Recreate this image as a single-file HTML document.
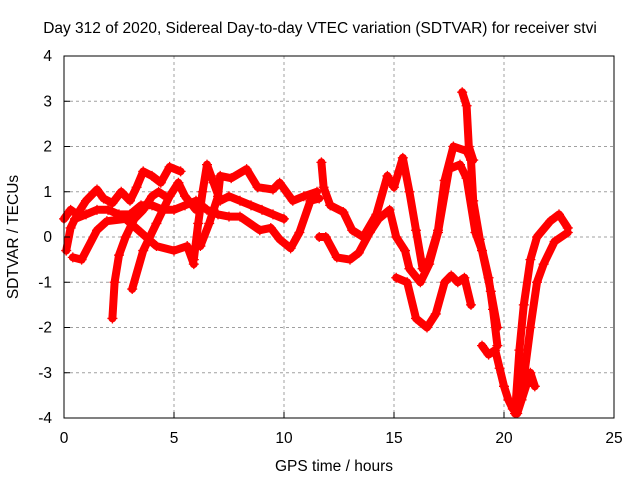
<!DOCTYPE html>
<html><head><meta charset="utf-8"><style>
body{margin:0;background:#fff}
svg text{font-family:"Liberation Sans",sans-serif;font-size:15.5px;fill:#000}
</style></head><body>
<svg width="640" height="480" xmlns="http://www.w3.org/2000/svg">
<rect width="640" height="480" fill="#fff"/>
<g id="grid"></g>
<g id="marks"></g>
<rect x="64" y="56" width="550" height="362" fill="none" stroke="#000" stroke-width="1"/>
<g id="axes"></g>
<text x="320" y="33" text-anchor="middle">Day 312 of 2020, Sidereal Day-to-day VTEC variation (SDTVAR) for receiver stvi</text>
<text x="334" y="471" text-anchor="middle">GPS time / hours</text>
<text x="0" y="0" text-anchor="middle" transform="translate(18,237) rotate(-90)">SDTVAR / TECUs</text>
</svg>
<script>
const xTicks=[0,5,10,15,20,25];
const yTicks=[-4,-3,-2,-1,0,1,2,3,4];
const trackA=[[0,0.4],[0.3,0.6],[0.6,0.5],[1.0,0.8],[1.5,1.05],[1.8,0.85],[2.2,0.75],[2.6,1.0],[3.0,0.8],[3.3,1.1],[3.6,1.45],[4.0,1.35],[4.4,1.2],[4.8,1.55],[5.3,1.45]];
const trackB=[[0.1,-0.3],[0.3,0.2],[0.5,0.4],[1.0,0.5],[1.5,0.6],[2.0,0.6],[2.5,0.5],[3,0.5],[3.5,0.7],[4,0.7],[4.5,0.6],[5,0.6],[5.5,0.7],[6,0.8],[6.5,0.6],[7,0.5],[7.5,0.45],[8,0.45],[8.9,0.15],[9.4,0.2],[9.8,-0.05],[10.3,-0.25],[10.7,0.1],[11.2,0.8],[11.6,0.85]];
const trackC=[[2.2,-1.8],[2.3,-1.0],[2.5,-0.4],[2.8,0],[3.2,0.4],[3.6,0.6],[4,0.9],[4.3,1.0],[4.6,0.9]];
const trackD=[[3.1,-1.15],[3.6,-0.3],[4.2,0.3],[4.8,0.9],[5.2,1.2],[5.5,0.9],[6.0,0.6]];
const trackE=[[5.9,-0.5],[6.1,0.3],[6.3,1.0],[6.5,1.6],[6.8,1.2],[7.1,0.8],[7.5,0.9],[8.0,0.8],[8.5,0.7],[9.0,0.6],[9.5,0.5],[10.0,0.4]];
const trackF=[[6.2,-0.2],[6.6,0.3],[7.0,0.9],[7.1,1.35],[7.6,1.3],[8.3,1.5],[8.8,1.1],[9.5,1.05],[9.8,1.2],[10.4,0.8],[10.9,0.9],[11.5,1.0]];
const trackG=[[0.4,-0.45],[0.8,-0.5],[1.5,0.15],[1.95,0.35],[2.8,0.4],[3.5,0.1],[4.2,-0.2],[5,-0.3],[5.6,-0.2],[5.9,-0.6]];
const trackH=[[11.7,1.65],[11.8,1.1],[12.1,0.7],[12.7,0.55],[13.1,0.15],[13.6,0.0],[14.2,0.5],[14.7,1.35],[15.0,1.1],[15.4,1.75],[15.7,1.0],[16.0,0.15],[16.3,-0.7],[16.6,-0.5],[17.0,0.15],[17.3,1.25],[17.7,2.0],[18.3,1.9],[18.5,1.7],[18.6,0.8],[18.9,-0.05],[19.3,-0.9],[19.5,-1.6],[19.7,-2.4]];
const trackI=[[11.6,0.0],[11.9,0.0],[12.4,-0.45],[13.0,-0.5],[13.4,-0.35],[13.9,0.1],[14.3,0.4],[14.8,0.6],[15.1,0.0],[15.5,-0.3],[15.7,-0.7],[16.2,-1.0],[16.6,-0.6],[17.0,0.1],[17.5,1.5],[18.0,1.6],[18.3,1.3],[18.7,0.1],[19.0,-0.3],[19.4,-1.2],[19.7,-2.0]];
const trackJ=[[15.1,-0.9],[15.6,-1.0],[16.0,-1.8],[16.5,-2.0],[16.9,-1.7],[17.3,-1.0],[17.6,-0.85],[17.9,-1.0],[18.2,-0.9],[18.5,-1.5]];
const trackK=[[18.1,3.2],[18.3,2.9],[18.4,2.0],[18.6,1.7]];
const trackL=[[19.0,-2.4],[19.3,-2.6],[19.6,-2.5],[19.8,-2.9],[20.0,-3.3],[20.2,-3.6],[20.4,-3.8],[20.6,-3.9],[20.8,-3.6],[21.0,-3.3],[21.2,-3.0],[21.4,-3.3]];
const trackM=[[20.5,-3.9],[20.7,-2.5],[20.9,-1.5],[21.2,-0.5],[21.5,0.0],[22.1,0.35],[22.5,0.5],[22.9,0.2]];
const trackN=[[20.8,-3.5],[21.2,-2.0],[21.5,-1.0],[21.8,-0.6],[22.3,-0.1],[22.9,0.1]];
const tracks=[trackA,trackB,trackC,trackD,trackE,trackF,trackG,trackH,trackI,trackJ,trackK,trackL,trackM,trackN];
const NS='http://www.w3.org/2000/svg';
const X=h=>64+h*22;
const Y=v=>237+(-v)*45.25;
function mk(tag,attrs,parent){const e=document.createElementNS(NS,tag);for(const k in attrs)e.setAttribute(k,attrs[k]);parent.appendChild(e);return e;}
const grid=document.getElementById('grid'),axes=document.getElementById('axes'),marks=document.getElementById('marks');
xTicks.forEach(t=>{
 if(t>0&&t<25){const l=mk('line',{x1:X(t),x2:X(t),y1:56,y2:418,stroke:'#a0a0a0','stroke-dasharray':'3,3'},grid);
 
 }
 const tk=mk('line',{x1:X(t),x2:X(t),y1:418,y2:412,stroke:'#000'},axes);
 
 
 const tx=mk('text',{x:X(t),y:443,'text-anchor':'middle'},axes);tx.textContent=t;
 
 
});
yTicks.forEach(t=>{
 if(t>-4&&t<4){const l=mk('line',{x1:64,x2:614,y1:Y(t),y2:Y(t),stroke:'#a0a0a0','stroke-dasharray':'3,3'},grid);
 
 }
 const tk=mk('line',{x1:64,x2:70,y1:Y(t),y2:Y(t),stroke:'#000'},axes);
 
 
 const tx=mk('text',{x:52,y:Y(t)+5,'text-anchor':'end'},axes);tx.textContent=t;
 
 
});
tracks.forEach((tr,i)=>{
 const d=tr.map((p,j)=>(j?'L':'M')+X(p[0]).toFixed(1)+' '+Y(p[1]).toFixed(1)).join(' ');
 const path=mk('path',{d:d,fill:'none',stroke:'#ff0000','stroke-width':8,'stroke-linejoin':'round','stroke-linecap':'round'},marks);
 
 
 tr.forEach(p=>{
  const x=X(p[0]),y=Y(p[1]);
  const m=mk('path',{d:`M${x-5} ${y}H${x+5}M${x} ${y-5}V${y+5}`,stroke:'#ff0000','stroke-width':1.3},marks);
  
  
 });
});
</script>
</body></html>
